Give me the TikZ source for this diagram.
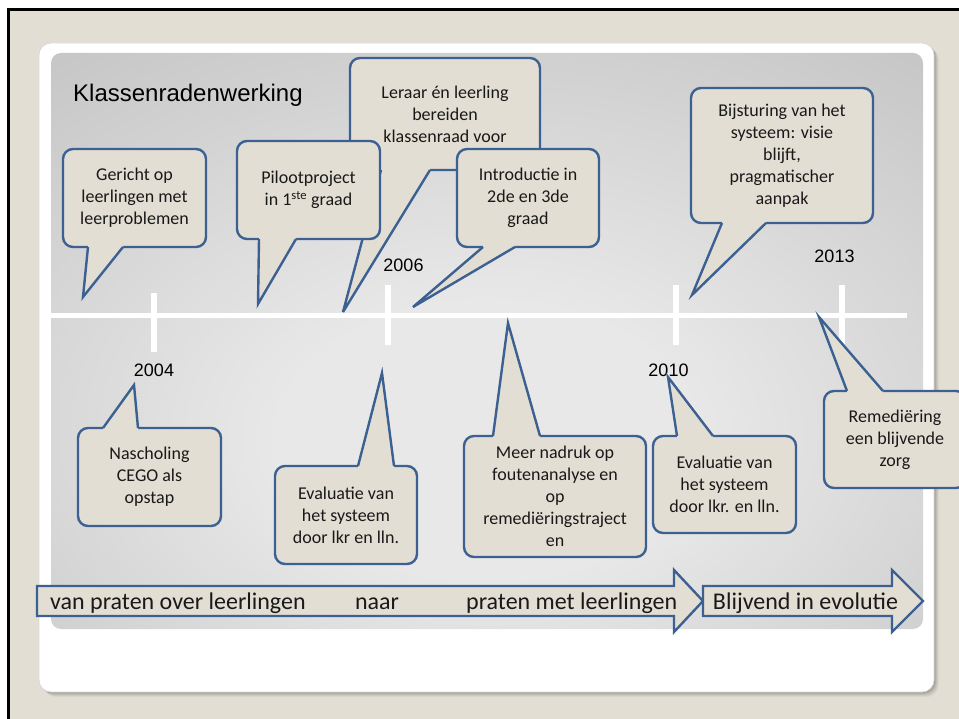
\documentclass[tikz,border=0pt]{standalone}
\usepackage{fontspec}
\setmainfont{Carlito}
\newfontfamily\arialfont{Liberation Sans}
\definecolor{bgbeige}{RGB}{227,222,212}
\definecolor{cofill}{RGB}{227,222,211}
\definecolor{coline}{RGB}{59,96,145}
\definecolor{pin}{gray}{0.91}
\definecolor{pout}{gray}{0.62}
\pgfdeclareradialshading{panelshade}{\pgfpoint{0bp}{-10bp}}{color(0bp)=(pin); color(12bp)=(pin); color(72bp)=(pout); color(90bp)=(pout)}
\newcommand{\tldown}[5]{% #1=base y, #2=a, #3=b, #4=tip x, #5=tip y
  \fill[cofill] (#2,#1-3) -- (#2,#1) -- (#4,#5) -- (#3,#1) -- (#3,#1-3) -- cycle;
  \draw[ctail] (#2,#1) -- (#4,#5) -- (#3,#1);}
\newcommand{\tlup}[5]{%
  \fill[cofill] (#2,#1+3) -- (#2,#1) -- (#4,#5) -- (#3,#1) -- (#3,#1+3) -- cycle;
  \draw[ctail] (#2,#1) -- (#4,#5) -- (#3,#1);}
\begin{document}
\begin{tikzpicture}[x=1pt,y=-1pt,
  cbox/.style={draw=coline, fill=cofill, line width=2.4pt, rounded corners=10pt, align=center,
    font=\fontsize{18}{22}\selectfont, text=black!90, inner sep=2pt},
  ctail/.style={draw=coline, line width=2.4pt, line join=miter, miter limit=6},
  year/.style={font=\arialfont\fontsize{18}{22}\selectfont, text=black, inner sep=0pt},
  tline/.style={draw=white, line width=5.5pt},
  arrowbox/.style={draw=coline, fill=cofill, line width=2.4pt, line join=miter},
  arrtext/.style={font=\fontsize{24}{28}\selectfont, text=black!90, inner sep=0pt}]
\useasboundingbox (0,0) rectangle (959,719);
% background
\fill[white] (0,0) rectangle (959,719);
\fill[bgbeige] (8,9) rectangle (959,719);
\draw[line width=3pt, black] (8.3,719) -- (8.3,9.3) -- (959,9.3);
% card with shadow
\foreach \d/\o in {1/0.10,2/0.08,3/0.06,4/0.05,5/0.03}
  \fill[black, opacity=\o, rounded corners=12pt] (39+\d,43+\d) rectangle (934+\d,692+\d);
\filldraw[fill=white, draw=black!15, line width=0.8pt, rounded corners=12pt] (39,43) rectangle (934,692);
% panel
\shade[shading=panelshade, rounded corners=10pt] (51,53) rectangle (923,629);
% timeline
\draw[tline] (51,315.5) -- (907,315.5);
\draw[tline] (154,293) -- (154,352);
\draw[tline] (388,285) -- (388,345);
\draw[tline] (676,285) -- (676,345);
\draw[tline] (842,285) -- (842,345);
% labels
\node[anchor=base west, font=\arialfont\fontsize{24}{28}\selectfont, inner sep=0pt] (title) at (73,102) {Klassenradenwerking};
\node[year] (y2004) at (154,370) {2004};
\node[year] (y2006) at (403.5,265) {2006};
\node[year] (y2010) at (668.5,370) {2010};
\node[year] (y2013) at (834.5,256.5) {2013};
% callouts above
\node[cbox, minimum width=143, minimum height=98] (c1) at (134.5,198) {Gericht op\\leerlingen met\\leerproblemen};
\tldown{247}{88}{123}{83}{297}
\node[cbox, minimum width=190, minimum height=112] (c3) at (445,114) {Leraar én leerling\\bereiden\\klassenraad voor};
\tldown{170}{381}{430}{343}{312}
\node[cbox, minimum width=143, minimum height=98] (c2) at (308.5,190) {Pilootproject\\in 1\textsuperscript{ste} graad};
\tldown{239}{259}{296}{258}{304}
\node[cbox, minimum width=142, minimum height=98] (c4) at (528,198) {Introductie in\\2de en 3de\\graad};
\tldown{247}{483}{515}{413}{307}
\node[cbox, minimum width=182, minimum height=135] (c5) at (782,155.5) {Bijsturing van het\\systeem: visie\\blijft,\\pragmatischer\\aanpak};
\tldown{223}{722}{766}{692}{295}
% callouts below
\node[cbox, minimum width=143, minimum height=98] (c6) at (149.5,477) {Nascholing\\CEGO als\\opstap};
\tlup{428}{103}{138}{134}{385}
\node[cbox, minimum width=142, minimum height=98] (c7) at (346,515) {Evaluatie van\\het systeem\\door lkr en lln.};
\tlup{466}{358}{394}{382}{373}
\node[cbox, minimum width=182, minimum height=121] (c8) at (555,496.5) {Meer nadruk op\\foutenanalyse en\\op\\remediëringstraject\\en};
\tlup{436}{493}{540}{508}{323}
\node[cbox, minimum width=143, minimum height=97] (c9) at (724.5,484.5) {Evaluatie van\\het systeem\\door lkr. en lln.};
\tlup{436}{677}{713}{668}{377}
\node[cbox, minimum width=142, minimum height=97] (c10) at (895,439.5) {Remediëring\\een blijvende\\zorg};
\tlup{391}{847}{883}{819}{317}
% bottom arrows
\draw[arrowbox] (37,586) -- (674,586) -- (674,570) -- (703,601) -- (674,632) -- (674,616) -- (37,616) -- cycle;
\draw[arrowbox] (703,586) -- (892,586) -- (892,570) -- (923,601) -- (892,632) -- (892,616) -- (703,616) -- cycle;
\node[arrtext, anchor=base west] (t1) at (50,609) {van praten over leerlingen};
\node[arrtext, anchor=base] (t2) at (377,609) {naar};
\node[arrtext, anchor=base west] (t3) at (466,609) {praten met leerlingen};
\node[arrtext, anchor=base] (t4) at (805.5,609) {Blijvend in evolutie};
\end{tikzpicture}
\end{document}
